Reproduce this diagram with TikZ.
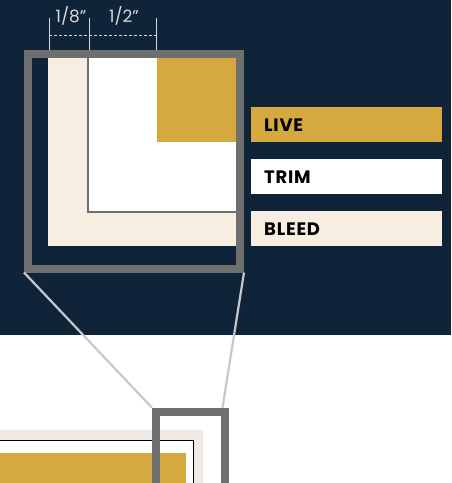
\documentclass[tikz,border=0pt]{standalone}
\usepackage{fontspec}
\setmainfont{Poppins}
\definecolor{printNavy}{HTML}{0F2439}
\definecolor{printGold}{HTML}{D5A940}
\definecolor{printBleed}{HTML}{F6EFE1}
\definecolor{printBleedSoft}{HTML}{EFEBE4}
\definecolor{printFrame}{HTML}{6F6F6F}
\definecolor{printLine}{HTML}{C8C8C8}
\definecolor{printDim}{HTML}{D8D8D8}
\usetikzlibrary{positioning, calc}

\begin{document}
\begin{tikzpicture}[x=1pt, y=-1pt,
  legendbox/.style={anchor=north west, minimum height=35pt, text width=165pt,
    inner xsep=13pt, inner ysep=0pt, align=left, text=black,
    font=\fontsize{18}{18}\selectfont\bfseries\addfontfeatures{LetterSpace=4}},
  framebox/.style={draw=printFrame, line width=8pt, inner sep=0pt},
  zoomline/.style={draw=printLine, line width=2.2pt},
  dimtick/.style={draw=printDim, line width=1pt},
  dimlabel/.style={text=printDim, inner sep=0pt, font=\fontsize{17}{17}\selectfont}]
  \useasboundingbox (0,0) rectangle (451,483);
  \clip (0,0) rectangle (451,483);
  \fill[printNavy] (0,0) rectangle (451,334.7);

  % magnified corner
  \fill[printBleed] (48,58) rectangle (236,245.7);
  \fill[white] (88.3,58) rectangle (236,212);
  \draw[printFrame, line width=2pt] (88.3,58) -- (88.3,212) -- (236,212);
  \fill[printGold] (156.7,58) rectangle (236,141.7);
  \node[framebox, minimum width=212pt, minimum height=214.5pt] (zoombox) at (134,161.25) {};

  % dimensions
  \coordinate (bleedtick) at (49,50);
  \coordinate (trimtick) at (89,50);
  \coordinate (livetick) at (156,50);
  \foreach \t in {bleedtick, trimtick, livetick}
    \draw[dimtick] (\t) -- ++(0,-32);
  \draw[dimtick, dash pattern=on 3pt off 2pt] ($(bleedtick)+(0,-15)$) -- ($(livetick)+(0,-15)$);
  \node[dimlabel] (bleedlabel) at (71,16) {1/8''};
  \node[dimlabel] (trimlabel) at (124,16) {1/2''};

  % legend
  \node[legendbox, fill=printGold] (livekey) at (251,107) {LIVE};
  \node[legendbox, fill=white] (trimkey) at (251,159) {TRIM};
  \node[legendbox, fill=printBleed] (bleedkey) at (251,211) {BLEED};

  % page corner
  \fill[printBleedSoft] (-5,429.7) rectangle (203.3,490);
  \draw[black, line width=1pt, fill=white] (-5,440) rectangle (193.3,490);
  \fill[printGold] (-5,453) rectangle (185.7,490);
  \node[framebox, minimum width=68.5pt, minimum height=88.3pt] (loupe) at (190.25,455.85) {};

  \draw[zoomline] (zoombox.south west) -- (loupe.north west);
  \draw[zoomline] (zoombox.south east) -- ([xshift=-6pt]loupe.north east);
\end{tikzpicture}
\end{document}
